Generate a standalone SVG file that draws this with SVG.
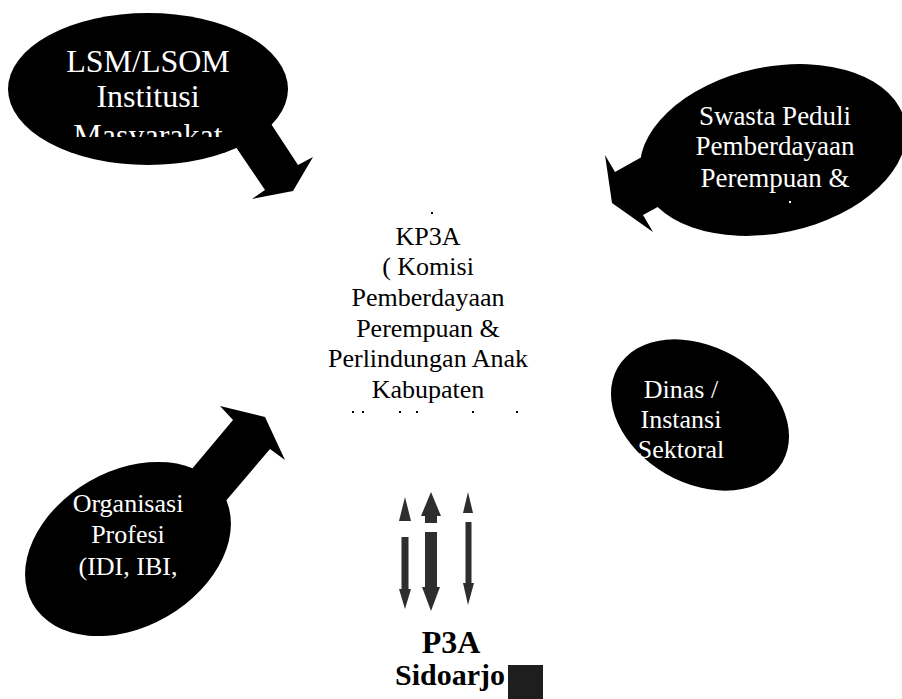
<svg xmlns="http://www.w3.org/2000/svg" width="902" height="699" viewBox="0 0 902 699">
<style>
.bub{fill:#000}
.tail{fill:#000}
.wt{fill:#fff;font-family:"Liberation Serif","Times New Roman",serif;text-anchor:middle}
.bt{fill:#000;font-family:"Liberation Serif","Times New Roman",serif;text-anchor:middle}
.ga{fill:#2e2e2e}
.dot{fill:#000}
</style>
<defs>
<clipPath id="clipLsm"><rect x="0" y="0" width="330" height="137"/></clipPath>
</defs>
<rect width="902" height="699" fill="#fff"/>

<g id="connectors">
  <polygon class="tail" points="258,104 298,165 313,157 293,191 252,199 265,190 223,128"/>
  <polygon class="tail" points="690,130 615,172 605,155 612,203 653,232 643,215 700,184"/>
  <polygon class="tail" points="160,507 233,420 220,406 265,417 285,460 270,449 190,543"/>
  <g id="double-arrows">
    <polygon class="ga" points="405,497 411,521 399,521"/>
    <rect class="ga" x="401.5" y="537" width="7" height="53"/>
    <polygon class="ga" points="399,589 411,589 405,609"/>
    <polygon class="ga" points="431,492 441,516 421,516"/>
    <rect class="ga" x="425" y="515" width="12" height="8"/>
    <rect class="ga" x="425" y="532" width="12" height="57"/>
    <polygon class="ga" points="422,587 440,587 431,611"/>
    <polygon class="ga" points="468,492 473,513 463,513"/>
    <rect class="ga" x="465.5" y="522" width="6" height="63"/>
    <polygon class="ga" points="463,583 474,583 468,605"/>
  </g>
</g>

<g id="node-lsm">
  <ellipse class="bub" cx="148" cy="89" rx="140" ry="76"/>
  <text class="wt" x="148" y="72" font-size="32">LSM/LSOM</text>
  <text class="wt" x="148" y="107" font-size="32">Institusi</text>
  <text class="wt" x="148" y="146" font-size="32" clip-path="url(#clipLsm)">Masyarakat</text>
</g>

<g id="node-swasta">
  <ellipse class="bub" cx="773" cy="150" rx="135" ry="83" transform="rotate(-12 773 150)"/>
  <text class="wt" x="775" y="125" font-size="27">Swasta Peduli</text>
  <text class="wt" x="775" y="155" font-size="27">Pemberdayaan</text>
  <text class="wt" x="775" y="187" font-size="27">Perempuan &amp;</text>
  <rect x="789" y="201" width="2" height="2" fill="#fff"/>
</g>

<g id="node-kp3a">
  <text class="bt" x="428" y="245" font-size="26">KP3A</text>
  <text class="bt" x="428" y="275" font-size="26">( Komisi</text>
  <text class="bt" x="428" y="306" font-size="26">Pemberdayaan</text>
  <text class="bt" x="428" y="337" font-size="26">Perempuan &amp;</text>
  <text class="bt" x="428" y="367" font-size="26">Perlindungan Anak</text>
  <text class="bt" x="428" y="398" font-size="26">Kabupaten</text>
  <rect class="dot" x="431" y="212" width="2" height="2"/>
  <rect class="dot" x="352" y="411" width="2" height="2"/>
  <rect class="dot" x="362" y="411" width="2" height="2"/>
  <rect class="dot" x="399" y="411" width="2" height="2"/>
  <rect class="dot" x="416" y="411" width="2" height="2"/>
  <rect class="dot" x="472" y="411" width="2" height="2"/>
  <rect class="dot" x="516" y="411" width="2" height="2"/>
</g>

<g id="node-dinas">
  <ellipse class="bub" cx="700" cy="415" rx="95" ry="68" transform="rotate(30 700 415)"/>
  <text class="wt" x="681" y="398" font-size="26">Dinas /</text>
  <text class="wt" x="681" y="428" font-size="26">Instansi</text>
  <text class="wt" x="681" y="458" font-size="26">Sektoral</text>
</g>

<g id="node-organisasi">
  <ellipse class="bub" cx="128" cy="549" rx="110" ry="78" transform="rotate(-30 128 549)"/>
  <text class="wt" x="128" y="512" font-size="26">Organisasi</text>
  <text class="wt" x="128" y="543" font-size="26">Profesi</text>
  <text class="wt" x="128" y="575" font-size="26">(IDI, IBI,</text>
</g>

<g id="node-p3a">
  <text class="bt" x="451" y="653" font-size="32" font-weight="bold">P3A</text>
  <text class="bt" x="450" y="685" font-size="30" font-weight="bold">Sidoarjo</text>
  <rect x="508" y="665" width="35" height="34" fill="#1e1e1e"/>
</g>
</svg>
